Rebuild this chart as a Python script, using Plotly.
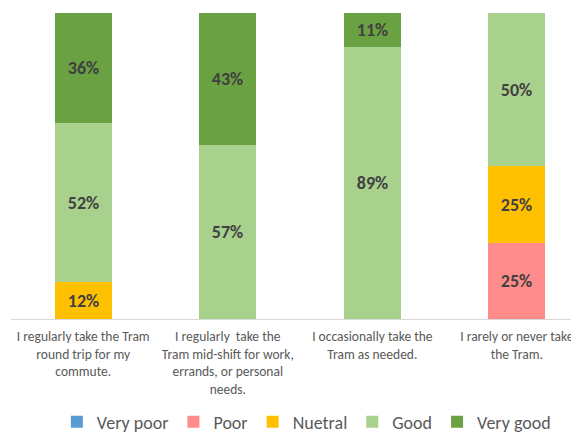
import plotly.graph_objects as go

categories = [
    "I regularly take the Tram<br>round trip for my<br>commute.",
    "I regularly  take the<br>Tram mid-shift for work,<br>errands, or personal<br>needs.",
    "I occasionally take the<br>Tram as needed.",
    "I rarely or never take<br>the Tram.",
]
series_names = ["Very poor", "Poor", "Nuetral", "Good", "Very good"]
very_poor = [0, 0, 0, 0]
poor = [0, 0, 0, 25]
neutral = [12, 0, 0, 25]
good = [52, 57, 89, 50]
very_good = [36, 43, 11, 0]
colors = ["#5B9BD5", "#FF8B8B", "#FFC000", "#A9D18E", "#6AA142"]

values = [very_poor, poor, neutral, good, very_good]
xs = list(range(len(categories)))

FONT = "Carlito, Lato, sans-serif"

fig = go.Figure()
for name, vals, col in zip(series_names, values, colors):
    fig.add_trace(go.Bar(
        x=xs, y=vals, name=name, marker=dict(color=col, line=dict(width=0)),
        width=0.395,
        text=[f"{v}%" if v > 0 else "" for v in vals],
        textposition="inside", insidetextanchor="middle",
        textfont=dict(family=FONT, size=18, color="#404040", weight="bold"),
        textangle=0,
    ))

# page body has an 8px default margin; margins compensate for it
fig.update_layout(
    barmode="stack",
    width=579, height=434,
    margin=dict(l=3, r=8, t=5, b=123, autoexpand=False),
    paper_bgcolor="white", plot_bgcolor="white",
    bargap=0,
    uniformtext=dict(minsize=8, mode="show"),
    xaxis=dict(
        range=[-0.5, 3.43], tickvals=xs, ticktext=categories,
        showgrid=False, zeroline=False, showline=True, linecolor="#D9D9D9", linewidth=1,
        ticks="", ticklabelstandoff=5, automargin=False,
        tickfont=dict(family=FONT, size=13.5, color="#595959"),
        fixedrange=True,
    ),
    yaxis=dict(range=[0, 100], visible=False, fixedrange=True, automargin=False),
    legend=dict(
        orientation="h", x=0.52, xanchor="center", y=-0.337, yanchor="middle",
        font=dict(family=FONT, size=18, color="#595959"),
        traceorder="normal", itemwidth=30, tracegroupgap=0,
    ),
    showlegend=True,
)

fig.write_html("out.html")
